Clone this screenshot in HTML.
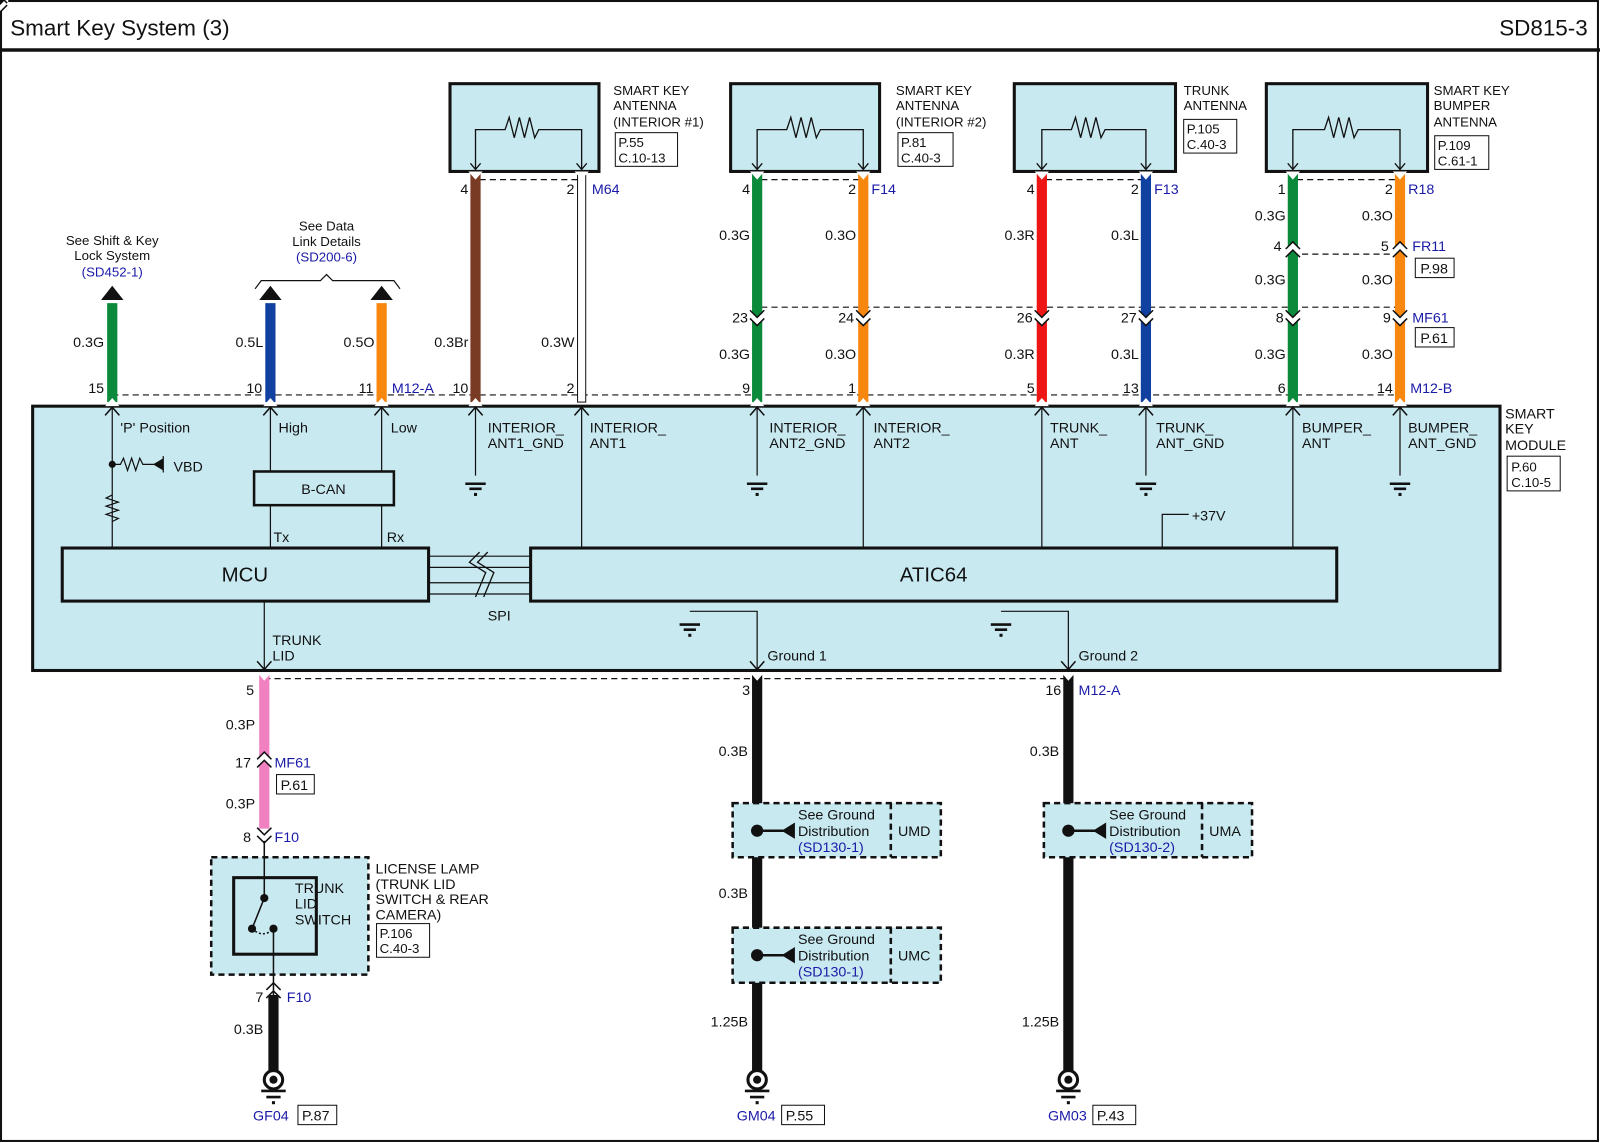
<!DOCTYPE html>
<html><head><meta charset="utf-8"><style>
html,body{margin:0;padding:0;background:#fff}
svg{display:block}
text{font-family:"Liberation Sans",Arial,sans-serif;font-size:14px;fill:#111}
.b{fill:#1a1aa8}
.s{font-size:13px}
</style></head><body>
<svg width="1600" height="1143" viewBox="0 0 1568 1120" preserveAspectRatio="none" xmlns="http://www.w3.org/2000/svg">
<defs>
<g id="gnd"><path d="M-10 0H10M-6 5H6" stroke="#111" stroke-width="2.5"/><rect x="-1.5" y="9" width="3" height="3" fill="#111"/></g>
<g id="pinU"><path d="M-7 9L0 1L7 9" fill="none" stroke="#111" stroke-width="1.5"/></g>
<g id="pinD"><path d="M-7 -9L0 -1L7 -9" fill="none" stroke="#111" stroke-width="1.5"/></g>
<g id="gsym"><circle cx="0" cy="0" r="9" fill="#fff" stroke="#111" stroke-width="3"/><circle cx="0" cy="0" r="4" fill="#111"/><path d="M-12 11H12M-7 17H7" stroke="#111" stroke-width="2.5"/><rect x="-1.5" y="21" width="3" height="3" fill="#111"/></g>
</defs>
<rect x="1" y="1" width="1565" height="1117" fill="#fff" stroke="#111" stroke-width="2"/>
<line x1="0" y1="49" x2="1568" y2="49" stroke="#111" stroke-width="3.5"/>
<text x="10" y="35" style="font-size:22px">Smart Key System (3)</text>
<text x="1556" y="35" text-anchor="end" style="font-size:22px">SD815-3</text>

<rect x="32" y="398" width="1438" height="259" fill="#c9e9f1" stroke="#111" stroke-width="3"/>
<text x="1475" y="410">SMART</text><text x="1475" y="425">KEY</text><text x="1475" y="441">MODULE</text>
<rect x="1477" y="447" width="52" height="34" fill="#fff" stroke="#111"/><text x="1481" y="462" class="s">P.60</text><text x="1481" y="477" class="s">C.10-5</text>

<g stroke="#111" fill="#c9e9f1" stroke-width="3">
<rect x="441" y="82" width="146" height="86"/><rect x="716" y="82" width="146" height="86"/>
<rect x="994" y="82" width="158" height="86"/><rect x="1241" y="82" width="158" height="86"/>
</g>
<g fill="none" stroke="#111" stroke-width="1.3">
<path d="M466 166V127H495l4-12 5 20 5-20 5 20 5-20 5 20 4-8H570V166"/>
<path d="M742 166V127H771l4-12 5 20 5-20 5 20 5-20 5 20 4-8H846V166"/>
<path d="M1021 166V127H1050l4-12 5 20 5-20 5 20 5-20 5 20 4-8H1123V166"/>
<path d="M1267 166V127H1298l4-12 5 20 5-20 5 20 5-20 5 20 4-8H1372V166"/>
<path d="M461 160l5 6 5-6M565 160l5 6 5-6M737 160l5 6 5-6M841 160l5 6 5-6M1016 160l5 6 5-6M1118 160l5 6 5-6M1262 160l5 6 5-6M1367 160l5 6 5-6"/>
</g>
<text x="601" y="93" class="s">SMART KEY</text><text x="601" y="108" class="s">ANTENNA</text><text x="601" y="124" class="s">(INTERIOR #1)</text>
<rect x="603" y="130" width="61" height="33" fill="#fff" stroke="#111"/><text x="606" y="144" class="s">P.55</text><text x="606" y="159" class="s">C.10-13</text>
<text x="878" y="93" class="s">SMART KEY</text><text x="878" y="108" class="s">ANTENNA</text><text x="878" y="124" class="s">(INTERIOR #2)</text>
<rect x="880" y="130" width="54" height="33" fill="#fff" stroke="#111"/><text x="883" y="144" class="s">P.81</text><text x="883" y="159" class="s">C.40-3</text>
<text x="1160" y="93" class="s">TRUNK</text><text x="1160" y="108" class="s">ANTENNA</text>
<rect x="1160" y="117" width="52" height="33" fill="#fff" stroke="#111"/><text x="1163" y="131" class="s">P.105</text><text x="1163" y="146" class="s">C.40-3</text>
<text x="1405" y="93" class="s">SMART KEY</text><text x="1405" y="108" class="s">BUMPER</text><text x="1405" y="124" class="s">ANTENNA</text>
<rect x="1406" y="133" width="53" height="33" fill="#fff" stroke="#111"/><text x="1409" y="147" class="s">P.109</text><text x="1409" y="162" class="s">C.61-1</text>

<g stroke="#111" stroke-width="1.2" stroke-dasharray="6,4" fill="none">
<path d="M470 176H566M746 176H842M1025 176H1119M1271 176H1368"/>
<path d="M746 301H1368"/>
<path d="M1276 249H1368"/>
<path d="M110 387H1372"/>
<path d="M259 665H1047"/>
</g>

<g stroke-width="10">
<line x1="110" y1="297" x2="110" y2="394" stroke="#0a8a3a"/>
<line x1="265" y1="297" x2="265" y2="394" stroke="#1040a0"/>
<line x1="374" y1="297" x2="374" y2="394" stroke="#f7870f"/>
<line x1="466" y1="170" x2="466" y2="394" stroke="#7a3b24"/>
<line x1="742" y1="170" x2="742" y2="394" stroke="#0a8a3a"/>
<line x1="846" y1="170" x2="846" y2="394" stroke="#f7870f"/>
<line x1="1021" y1="170" x2="1021" y2="394" stroke="#ee1515"/>
<line x1="1123" y1="170" x2="1123" y2="394" stroke="#1040a0"/>
<line x1="1267" y1="170" x2="1267" y2="394" stroke="#0a8a3a"/>
<line x1="1372" y1="170" x2="1372" y2="394" stroke="#f7870f"/>
</g>
<rect x="566" y="170" width="8" height="224" fill="#fff" stroke="#111" stroke-width="1"/>
<g fill="#111"><path d="M99 294L110 280L121 294Z"/><path d="M254 294L265 280L276 294Z"/><path d="M363 294L374 280L385 294Z"/></g>
<g fill="#fff"><path d="M459 168L466 176L473 168Z"/><path d="M563 168L570 176L577 168Z"/><path d="M735 168L742 176L749 168Z"/><path d="M839 168L846 176L853 168Z"/><path d="M1014 168L1021 176L1028 168Z"/><path d="M1116 168L1123 176L1130 168Z"/><path d="M1260 168L1267 176L1274 168Z"/><path d="M1365 168L1372 176L1379 168Z"/></g>
<g id="cd"><path d="M-8 -4L0 4L8 -4V4L0 12L-8 4Z" fill="#fff"/><path d="M-7 -3L0 4L7 -3M-7 5L0 12L7 5" fill="none" stroke="#111" stroke-width="1.5"/></g>
<use href="#cd" transform="translate(742,307)"/><use href="#cd" transform="translate(846,307)"/><use href="#cd" transform="translate(1021,307)"/><use href="#cd" transform="translate(1123,307)"/><use href="#cd" transform="translate(1267,307)"/><use href="#cd" transform="translate(1372,307)"/>
<g id="cu"><path d="M-8 4L0 -4L8 4V-4L0 -12L-8 -4Z" fill="#fff"/><path d="M-7 3L0 -4L7 3M-7 -5L0 -12L7 -5" fill="none" stroke="#111" stroke-width="1.5"/></g>
<use href="#cu" transform="translate(1267,249)"/><use href="#cu" transform="translate(1372,249)"/>
<g fill="#fff"><path d="M103 398L110 390L117 398Z"/><path d="M258 398L265 390L272 398Z"/><path d="M367 398L374 390L381 398Z"/><path d="M459 398L466 390L473 398Z"/><path d="M735 398L742 390L749 398Z"/><path d="M839 398L846 390L853 398Z"/><path d="M1014 398L1021 390L1028 398Z"/><path d="M1116 398L1123 390L1130 398Z"/><path d="M1260 398L1267 390L1274 398Z"/><path d="M1365 398L1372 390L1379 398Z"/></g>
<use href="#pinU" transform="translate(110,398)"/><use href="#pinU" transform="translate(265,398)"/><use href="#pinU" transform="translate(374,398)"/><use href="#pinU" transform="translate(466,398)"/><use href="#pinU" transform="translate(570,398)"/><use href="#pinU" transform="translate(742,398)"/><use href="#pinU" transform="translate(846,398)"/><use href="#pinU" transform="translate(1021,398)"/><use href="#pinU" transform="translate(1123,398)"/><use href="#pinU" transform="translate(1267,398)"/><use href="#pinU" transform="translate(1372,398)"/>

<text x="110" y="240" text-anchor="middle" class="s">See Shift &amp; Key</text><text x="110" y="255" text-anchor="middle" class="s">Lock System</text><text x="110" y="271" text-anchor="middle" class="s b">(SD452-1)</text>
<text x="320" y="226" text-anchor="middle" class="s">See Data</text><text x="320" y="241" text-anchor="middle" class="s">Link Details</text><text x="320" y="256" text-anchor="middle" class="s b">(SD200-6)</text>
<path d="M250 283L256 275H314L320 269L326 275H386L392 283" fill="none" stroke="#111" stroke-width="1.2"/>
<g text-anchor="end">
<text x="102" y="340">0.3G</text><text x="258" y="340">0.5L</text><text x="367" y="340">0.5O</text><text x="459" y="340">0.3Br</text><text x="563" y="340">0.3W</text>
<text x="735" y="235">0.3G</text><text x="839" y="235">0.3O</text><text x="1014" y="235">0.3R</text><text x="1116" y="235">0.3L</text>
<text x="735" y="352">0.3G</text><text x="839" y="352">0.3O</text><text x="1014" y="352">0.3R</text><text x="1116" y="352">0.3L</text>
<text x="1260" y="216">0.3G</text><text x="1365" y="216">0.3O</text><text x="1260" y="279">0.3G</text><text x="1365" y="279">0.3O</text><text x="1260" y="352">0.3G</text><text x="1365" y="352">0.3O</text>
<text x="102" y="385">15</text><text x="257" y="385">10</text><text x="366" y="385">11</text><text x="459" y="385">10</text><text x="563" y="385">2</text>
<text x="735" y="385">9</text><text x="839" y="385">1</text><text x="1014" y="385">5</text><text x="1116" y="385">13</text><text x="1260" y="385">6</text><text x="1365" y="385">14</text>
<text x="459" y="190">4</text><text x="563" y="190">2</text><text x="735" y="190">4</text><text x="839" y="190">2</text><text x="1014" y="190">4</text><text x="1116" y="190">2</text><text x="1260" y="190">1</text><text x="1365" y="190">2</text>
<text x="733" y="316">23</text><text x="837" y="316">24</text><text x="1012" y="316">26</text><text x="1114" y="316">27</text><text x="1258" y="316">8</text><text x="1363" y="316">9</text>
<text x="1256" y="246">4</text><text x="1361" y="246">5</text>
</g>
<text x="384" y="385" class="b">M12-A</text><text x="1382" y="385" class="b">M12-B</text>
<text x="580" y="190" class="b">M64</text><text x="854" y="190" class="b">F14</text><text x="1131" y="190" class="b">F13</text><text x="1380" y="190" class="b">R18</text>
<text x="1384" y="246" class="b">FR11</text><rect x="1387" y="253" width="38" height="19" fill="#fff" stroke="#111"/><text x="1392" y="268">P.98</text>
<text x="1384" y="316" class="b">MF61</text><rect x="1387" y="321" width="38" height="19" fill="#fff" stroke="#111"/><text x="1392" y="336">P.61</text>

<g stroke="#111" stroke-width="1.2" fill="none">
<path d="M110 400V537"/><path d="M265 400V462M374 400V462M265 495V537M374 495V537"/>
<path d="M466 400V466M742 400V466M1123 400V466M1372 400V466"/>
<path d="M570 400V537M846 400V537M1021 400V537M1267 400V537"/>
<path d="M1139 537V504H1165"/>
<path d="M110 455H118l3-6 4 12 4-12 4 12 4-12 3 6H160M160 447V463"/>
<path d="M110 485l-6 3 12 4-12 4 12 4-12 4 12 4-6 3"/>
<path d="M420 545H520M420 556H520M420 571H520M420 582H520"/>
<path d="M470 541l-10 10 16 10-10 24M478 541l-10 10 16 10-10 24" stroke-width="1.3"/>
<path d="M259 589V655"/><path d="M676 599H742V655"/><path d="M981 599H1047V655"/>
</g>
<path d="M160 449L150 455L160 461Z" fill="#111"/><circle cx="110" cy="455" r="3.5" fill="#111"/>
<use href="#gnd" transform="translate(466,474)"/><use href="#gnd" transform="translate(742,474)"/><use href="#gnd" transform="translate(1123,474)"/><use href="#gnd" transform="translate(1372,474)"/>
<use href="#gnd" transform="translate(676,612)"/><use href="#gnd" transform="translate(981,612)"/>
<text x="170" y="462">VBD</text>
<text x="118" y="424">'P' Position</text><text x="273" y="424">High</text><text x="383" y="424">Low</text>
<text x="478" y="424">INTERIOR_</text><text x="478" y="439">ANT1_GND</text>
<text x="578" y="424">INTERIOR_</text><text x="578" y="439">ANT1</text>
<text x="754" y="424">INTERIOR_</text><text x="754" y="439">ANT2_GND</text>
<text x="856" y="424">INTERIOR_</text><text x="856" y="439">ANT2</text>
<text x="1029" y="424">TRUNK_</text><text x="1029" y="439">ANT</text>
<text x="1133" y="424">TRUNK_</text><text x="1133" y="439">ANT_GND</text>
<text x="1276" y="424">BUMPER_</text><text x="1276" y="439">ANT</text>
<text x="1380" y="424">BUMPER_</text><text x="1380" y="439">ANT_GND</text>
<text x="1168" y="510">+37V</text>
<rect x="249" y="462" width="137" height="33" fill="#c9e9f1" stroke="#111" stroke-width="2.5"/><text x="317" y="484" text-anchor="middle">B-CAN</text>
<text x="268" y="531">Tx</text><text x="379" y="531">Rx</text>
<rect x="61" y="537" width="359" height="52" fill="#c9e9f1" stroke="#111" stroke-width="3"/><text x="240" y="570" text-anchor="middle" style="font-size:20px">MCU</text>
<rect x="520" y="537" width="790" height="52" fill="#c9e9f1" stroke="#111" stroke-width="3"/><text x="915" y="570" text-anchor="middle" style="font-size:20px">ATIC64</text>
<text x="478" y="608">SPI</text>
<text x="267" y="632">TRUNK</text><text x="267" y="647">LID</text>
<text x="752" y="647">Ground 1</text><text x="1057" y="647">Ground 2</text>
<use href="#pinD" transform="translate(259,657)"/><use href="#pinD" transform="translate(742,657)"/><use href="#pinD" transform="translate(1047,657)"/>

<line x1="259" y1="660" x2="259" y2="812" stroke="#f080c0" stroke-width="10"/>
<line x1="742" y1="660" x2="742" y2="1052" stroke="#111" stroke-width="10"/>
<line x1="1047" y1="660" x2="1047" y2="1052" stroke="#111" stroke-width="10"/>
<line x1="268" y1="975" x2="268" y2="1052" stroke="#111" stroke-width="10"/>
<g fill="#fff"><path d="M252 659L259 667L266 659Z"/><path d="M735 659L742 667L749 659Z"/><path d="M1040 659L1047 667L1054 659Z"/></g>
<use href="#cu" transform="translate(259,749)"/>
<use href="#cd" transform="translate(259,814)"/>
<use href="#cu" transform="translate(268,975)"/>
<text x="249" y="681" text-anchor="end">5</text><text x="735" y="681" text-anchor="end">3</text><text x="1040" y="681" text-anchor="end">16</text><text x="1057" y="681" class="b">M12-A</text>
<text x="250" y="715" text-anchor="end">0.3P</text><text x="250" y="792" text-anchor="end">0.3P</text>
<text x="246" y="752" text-anchor="end">17</text><text x="269" y="752" class="b">MF61</text>
<rect x="271" y="759" width="37" height="19" fill="#fff" stroke="#111"/><text x="275" y="774">P.61</text>
<text x="246" y="825" text-anchor="end">8</text><text x="269" y="825" class="b">F10</text>
<text x="258" y="982" text-anchor="end">7</text><text x="281" y="982" class="b">F10</text>
<text x="258" y="1013" text-anchor="end">0.3B</text>
<text x="733" y="741" text-anchor="end">0.3B</text><text x="1038" y="741" text-anchor="end">0.3B</text>
<text x="733" y="880" text-anchor="end">0.3B</text>
<text x="733" y="1006" text-anchor="end">1.25B</text><text x="1038" y="1006" text-anchor="end">1.25B</text>

<rect x="207" y="840" width="154" height="115" fill="#c9e9f1" stroke="#111" stroke-width="2.5" stroke-dasharray="6,4"/>
<rect x="229" y="860" width="81" height="75" fill="none" stroke="#111" stroke-width="3"/>
<g stroke="#111" stroke-width="1.5" fill="none"><path d="M259 824V880M259 880L247 910M268 910V975"/><path d="M247 910Q258 920 268 910" stroke-dasharray="2,2"/></g>
<circle cx="259" cy="880" r="4" fill="#111"/><circle cx="247" cy="910" r="4" fill="#111"/><circle cx="268" cy="910" r="4" fill="#111"/>
<text x="289" y="875">TRUNK</text><text x="289" y="890">LID</text><text x="289" y="906">SWITCH</text>
<text x="368" y="856">LICENSE LAMP</text><text x="368" y="871">(TRUNK LID</text><text x="368" y="886">SWITCH &amp; REAR</text><text x="368" y="901">CAMERA)</text>
<rect x="369" y="905" width="52" height="33" fill="#fff" stroke="#111"/><text x="372" y="919" class="s">P.106</text><text x="372" y="934" class="s">C.40-3</text>

<g fill="#c9e9f1" stroke="#111" stroke-width="2.5" stroke-dasharray="6,4">
<rect x="718" y="787" width="204" height="53"/><rect x="718" y="909" width="204" height="54"/><rect x="1023" y="787" width="204" height="53"/>
</g>
<g stroke="#111" stroke-width="2.5" stroke-dasharray="6,4"><path d="M873 787V840M873 909V963M1178 787V840"/></g>
<g stroke="#111" stroke-width="2.5"><path d="M742 814H770M742 936H770M1047 814H1075"/></g>
<g fill="#111"><circle cx="742" cy="814" r="6"/><circle cx="742" cy="936" r="6"/><circle cx="1047" cy="814" r="6"/>
<path d="M779 806V822L766 814Z"/><path d="M779 928V944L766 936Z"/><path d="M1084 806V822L1071 814Z"/></g>
<text x="782" y="803">See Ground</text><text x="782" y="819">Distribution</text><text x="782" y="835" class="b">(SD130-1)</text><text x="880" y="819">UMD</text>
<text x="782" y="925">See Ground</text><text x="782" y="941">Distribution</text><text x="782" y="957" class="b">(SD130-1)</text><text x="880" y="941">UMC</text>
<text x="1087" y="803">See Ground</text><text x="1087" y="819">Distribution</text><text x="1087" y="835" class="b">(SD130-2)</text><text x="1185" y="819">UMA</text>

<use href="#gsym" transform="translate(268,1058)"/><use href="#gsym" transform="translate(742,1058)"/><use href="#gsym" transform="translate(1047,1058)"/>
<text x="248" y="1098" class="b">GF04</text><rect x="292" y="1083" width="38" height="19" fill="#fff" stroke="#111"/><text x="296" y="1098">P.87</text>
<text x="722" y="1098" class="b">GM04</text><rect x="766" y="1083" width="42" height="19" fill="#fff" stroke="#111"/><text x="770" y="1098">P.55</text>
<text x="1027" y="1098" class="b">GM03</text><rect x="1071" y="1083" width="42" height="19" fill="#fff" stroke="#111"/><text x="1075" y="1098">P.43</text>
</svg>
</body></html>
